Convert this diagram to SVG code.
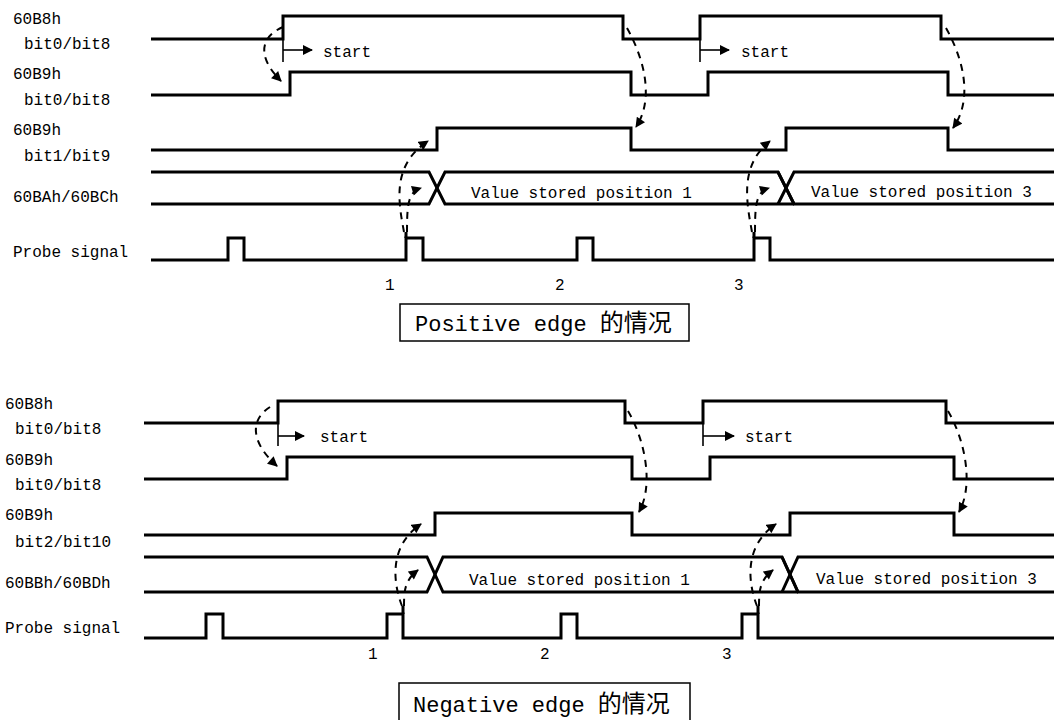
<svg xmlns="http://www.w3.org/2000/svg" width="1054" height="720" viewBox="0 0 1054 720">
<style>
.lbl{font-family:"Liberation Mono","Noto Sans CJK SC",monospace;font-size:16px;fill:#000}
.cap{font-family:"Liberation Mono","Noto Sans CJK SC",monospace;font-size:22px;fill:#000}
.cjk{font-family:"Noto Sans CJK SC",sans-serif;font-size:24px}
.w{fill:none;stroke:#000;stroke-width:3;stroke-linejoin:miter}
.thin{fill:none;stroke:#000;stroke-width:1.6}
.dash{fill:none;stroke:#000;stroke-width:2;stroke-dasharray:7 6;marker-end:url(#ah)}
.box{fill:#fff;stroke:#000;stroke-width:1.5}
</style>
<defs>
<marker id="ah" viewBox="0 0 10 10" refX="9" refY="5" markerWidth="11" markerHeight="10" markerUnits="userSpaceOnUse" orient="auto"><path d="M0,0 L10,5 L0,10 z" fill="#000"/></marker>
</defs>
<rect width="1054" height="720" fill="#fff"/>

<!-- ===== Positive edge ===== -->
<g id="pos-labels">
<text class="lbl" x="13" y="24">60B8h</text>
<text class="lbl" x="24" y="49">bit0/bit8</text>
<text class="lbl" x="13" y="79">60B9h</text>
<text class="lbl" x="24" y="105">bit0/bit8</text>
<text class="lbl" x="13" y="135">60B9h</text>
<text class="lbl" x="24" y="161">bit1/bit9</text>
<text class="lbl" x="13" y="202">60BAh/60BCh</text>
<text class="lbl" x="13" y="257">Probe signal</text>
</g>
<g id="pos-60B8h">
<path class="w" d="M151,39 H283 V16 H623 V39 H700 V16 H941 V39 H1054"/>
<path class="thin" d="M283,39 V62"/>
<path class="thin" d="M283,50 H312" marker-end="url(#ah)"/>
<text class="lbl" x="323" y="57">start</text>
<path class="thin" d="M700,39 V62"/>
<path class="thin" d="M700,50 H729" marker-end="url(#ah)"/>
<text class="lbl" x="741" y="57">start</text>
</g>
<g id="pos-60B9h-b0">
<path class="w" d="M151,95 H290 V72 H631 V95 H708 V72 H948 V95 H1054"/>
</g>
<g id="pos-60B9h-b1">
<path class="w" d="M151,150 H437 V128 H631 V150 H786 V128 H948 V150 H1054"/>
</g>
<g id="pos-bus">
<path class="w" d="M151,172 H429 L445,204 H778 L794,204"/>
<path class="w" d="M151,204 H429 L445,172 H778 L794,204"/>
<path class="w" d="M778,172 L794,204 H1054"/>
<path class="w" d="M778,204 L794,172 H1054"/>
<text class="lbl" x="471" y="198">Value stored position 1</text>
<text class="lbl" x="811" y="197">Value stored position 3</text>
</g>
<g id="pos-probe">
<path class="w" d="M151,260 H228 V238 H244 V260 H406 V238 H423 V260 H577 V238 H593 V260 H754 V238 H770 V260 H1054"/>
<path class="w" d="M406,238 V232"/>
<path class="w" d="M754,238 V232"/>
<text class="lbl" x="385" y="290">1</text>
<text class="lbl" x="555" y="290">2</text>
<text class="lbl" x="734" y="290">3</text>
</g>
<g id="pos-caption">
<rect class="box" x="400" y="304" width="289" height="37"/>
<text class="cap" x="415" y="331">Positive edge <tspan class="cjk">的情况</tspan></text>
</g>

<!-- ===== Negative edge ===== -->
<g id="neg-labels">
<text class="lbl" x="5" y="409">60B8h</text>
<text class="lbl" x="15" y="434">bit0/bit8</text>
<text class="lbl" x="5" y="465">60B9h</text>
<text class="lbl" x="15" y="490">bit0/bit8</text>
<text class="lbl" x="5" y="520">60B9h</text>
<text class="lbl" x="15" y="547">bit2/bit10</text>
<text class="lbl" x="5" y="588">60BBh/60BDh</text>
<text class="lbl" x="5" y="633">Probe signal</text>
</g>
<g id="neg-60B8h">
<path class="w" d="M144,423 H278 V401 H625 V423 H703 V401 H946 V423 H1054"/>
<path class="thin" d="M278,423 V446"/>
<path class="thin" d="M278,436 H304" marker-end="url(#ah)"/>
<text class="lbl" x="320" y="442">start</text>
<path class="thin" d="M703,423 V446"/>
<path class="thin" d="M703,436 H734" marker-end="url(#ah)"/>
<text class="lbl" x="745" y="442">start</text>
</g>
<g id="neg-60B9h-b0">
<path class="w" d="M144,479 H287 V457 H632 V479 H710 V457 H954 V479 H1054"/>
</g>
<g id="neg-60B9h-b2">
<path class="w" d="M144,535 H435 V513 H632 V535 H790 V513 H954 V535 H1054"/>
</g>
<g id="neg-bus">
<path class="w" d="M144,557 H427 L443,592 H782 L798,592"/>
<path class="w" d="M144,592 H427 L443,557 H782 L798,592"/>
<path class="w" d="M782,557 L798,592 H1054"/>
<path class="w" d="M782,592 L798,557 H1054"/>
<text class="lbl" x="469" y="585">Value stored position 1</text>
<text class="lbl" x="816" y="584">Value stored position 3</text>
</g>
<g id="neg-probe">
<path class="w" d="M144,638 H206 V614 H223 V638 H387 V614 H403 V638 H561 V614 H577 V638 H742 V614 H758 V638 H1054"/>
<path class="w" d="M403,614 V606"/>
<path class="w" d="M758,614 V606"/>
<text class="lbl" x="368" y="659">1</text>
<text class="lbl" x="540" y="659">2</text>
<text class="lbl" x="722" y="659">3</text>
</g>
<g id="neg-caption">
<rect class="box" x="399" y="683" width="291" height="40"/>
<text class="cap" x="413" y="712">Negative edge <tspan class="cjk">的情况</tspan></text>
</g>

<!-- ===== connectors ===== -->
<g id="connectors">
<path class="dash" d="M283,27 C262,36 255,55 281,81"/>
<path class="dash" d="M627,28 C645,60 654,100 636,127"/>
<path class="dash" d="M946,28 C964,60 973,100 953,128"/>
<path class="dash" d="M404,232 C398,200 392,165 428,141"/>
<path class="dash" d="M407,232 C407,205 408,192 421,188"/>
<path class="dash" d="M752,232 C746,200 740,165 770,141"/>
<path class="dash" d="M755,232 C755,205 756,192 769,188"/>

<path class="dash" d="M270,407 C252,418 248,440 277,466"/>
<path class="dash" d="M628,411 C645,440 654,485 639,512"/>
<path class="dash" d="M948,411 C965,440 974,485 959,512"/>
<path class="dash" d="M402,606 C392,580 390,545 421,524"/>
<path class="dash" d="M404,606 C404,590 405,580 418,570"/>
<path class="dash" d="M757,606 C747,580 745,545 776,524"/>
<path class="dash" d="M759,606 C759,590 760,580 773,570"/>
</g>
</svg>
